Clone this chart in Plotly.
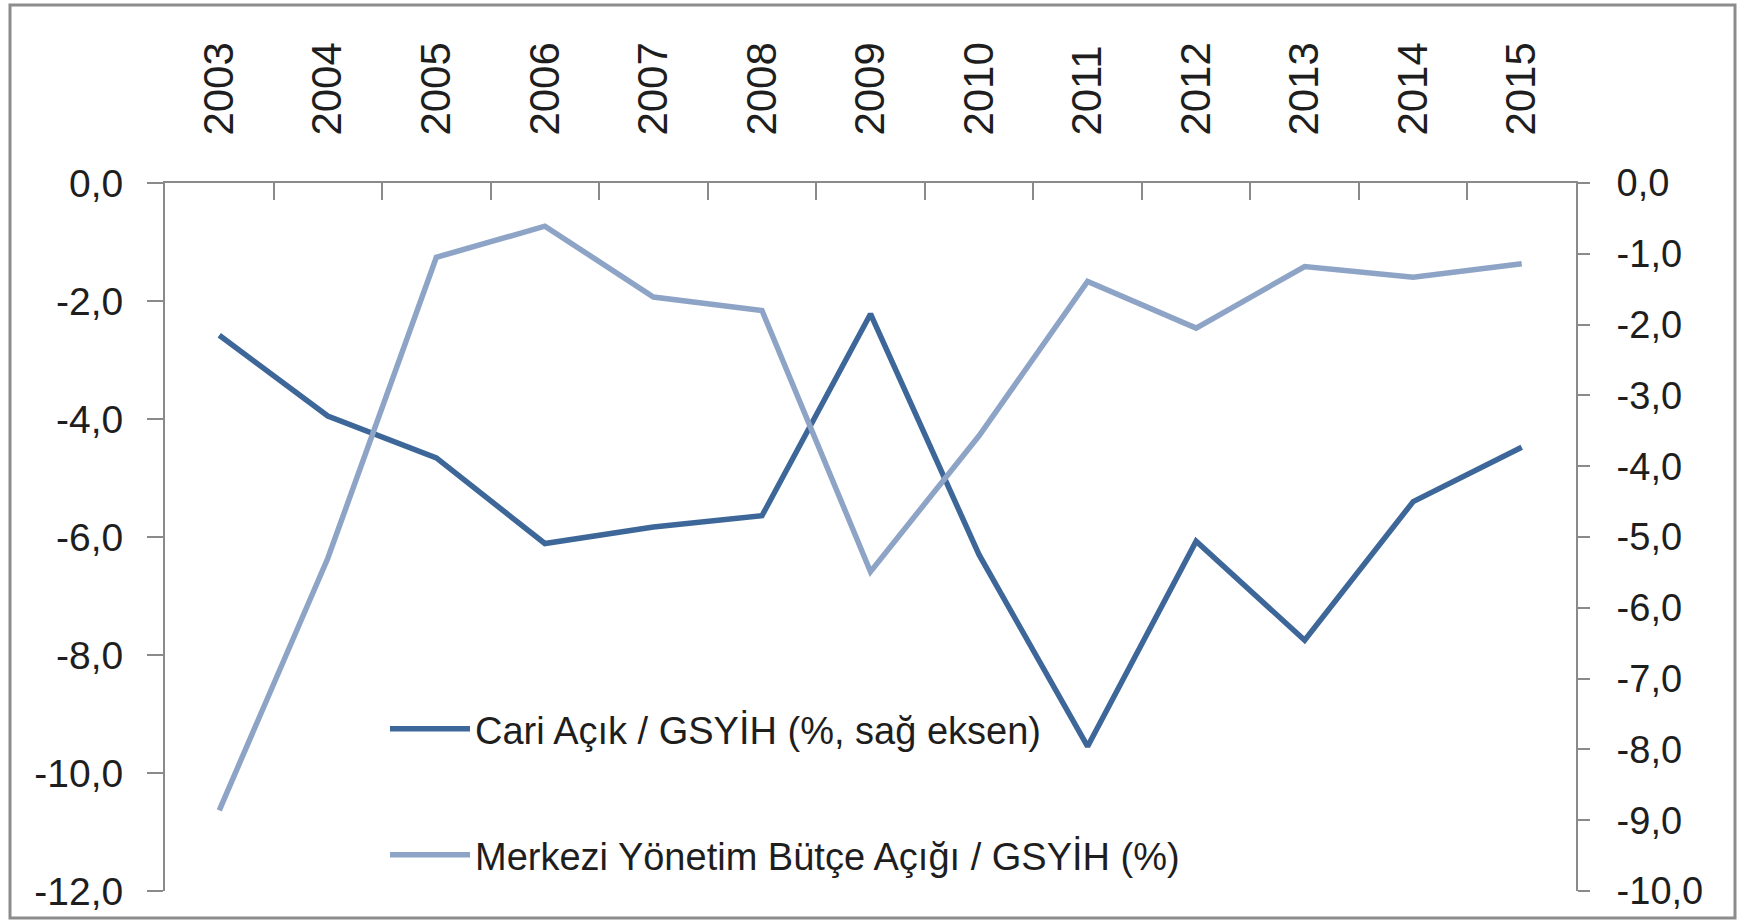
import plotly.graph_objects as go

years = ["2003", "2004", "2005", "2006", "2007", "2008", "2009",
         "2010", "2011", "2012", "2013", "2014", "2015"]

cari_name = "Cari Açık / GSYİH (%, sağ eksen)"
cari_values = [-2.58, -3.95, -4.66, -6.11, -5.83, -5.64, -2.22,
               -6.30, -9.55, -6.07, -7.75, -5.40, -4.48]

butce_name = "Merkezi Yönetim Bütçe Açığı / GSYİH (%)"
butce_values = [-8.86, -5.30, -1.05, -0.61, -1.61, -1.80, -5.49,
                -3.57, -1.39, -2.05, -1.18, -1.33, -1.14]

left_tickvals = [0, -2, -4, -6, -8, -10, -12]
left_ticktext = ["0,0", "-2,0", "-4,0", "-6,0", "-8,0", "-10,0", "-12,0"]
right_tickvals = [0, -1, -2, -3, -4, -5, -6, -7, -8, -9, -10]
right_ticktext = ["0,0", "-1,0", "-2,0", "-3,0", "-4,0", "-5,0", "-6,0",
                  "-7,0", "-8,0", "-9,0", "-10,0"]

DARK = "#3e6799"
LIGHT = "#8ea4c6"
AXIS = "#8a8a8a"
TXT = "#1e1e1e"

fig = go.Figure()
fig.add_trace(go.Scatter(x=years, y=cari_values, name=cari_name, mode="lines",
                         line=dict(color=DARK, width=5.5), yaxis="y", legend="legend",
                         showlegend=True))
fig.add_trace(go.Scatter(x=years, y=butce_values, name=butce_name, mode="lines",
                         line=dict(color=LIGHT, width=5.5), yaxis="y2", legend="legend2",
                         showlegend=True))

L, R, T, B = 165, 164, 183, 30
W, H = 1740, 921
pw, ph = W - L - R, H - T - B

def px2paper_x(px):
    return (px - L) / pw

def px2paper_y(py):
    return (H - B - py) / ph

fig.update_layout(
    width=W, height=H,
    margin=dict(l=L, r=R, t=T, b=B, autoexpand=False),
    paper_bgcolor="white", plot_bgcolor="white",
    showlegend=True,
    font=dict(family="Liberation Sans, Arial, sans-serif", size=38, color=TXT),
    xaxis=dict(type="category", side="top", tickangle=-90, automargin=False,
               tickson="boundaries", ticks="inside", ticklen=17, tickwidth=2,
               tickcolor=AXIS, showline=True, linecolor=AXIS, linewidth=2,
               showgrid=False, zeroline=False, range=[-0.5, 12.5],
               tickfont=dict(family="Liberation Sans, Arial, sans-serif", size=42, color=TXT),
               ticklabelstandoff=37),
    yaxis=dict(range=[-12, 0], tickvals=left_tickvals, ticktext=left_ticktext,
               automargin=False,
               ticks="outside", ticklen=16, tickwidth=2, tickcolor=AXIS,
               showline=True, linecolor=AXIS, linewidth=2, showgrid=False,
               zeroline=False, ticklabelstandoff=16,
               tickfont=dict(size=39, color=TXT)),
    yaxis2=dict(range=[-10, 0], tickvals=right_tickvals, ticktext=right_ticktext,
                overlaying="y", side="right", anchor="x", automargin=False,
                ticks="outside", ticklen=12, tickwidth=2, tickcolor=AXIS,
                showline=True, linecolor=AXIS, linewidth=2, showgrid=False,
                zeroline=False, ticklabelstandoff=19,
                tickfont=dict(size=38, color=TXT)),
    legend=dict(x=px2paper_x(385), y=px2paper_y(729), xanchor="left", yanchor="middle",
                bgcolor="rgba(0,0,0,0)", font=dict(size=38, color=TXT), itemwidth=80),
    legend2=dict(x=px2paper_x(385), y=px2paper_y(855), xanchor="left", yanchor="middle",
                 bgcolor="rgba(0,0,0,0)", font=dict(size=38, color=TXT), itemwidth=80),
    shapes=[dict(type="rect", xref="paper", yref="paper",
                 x0=px2paper_x(10), x1=px2paper_x(1735),
                 y0=px2paper_y(918), y1=px2paper_y(5),
                 line=dict(color="#8c8c8c", width=3), layer="below")],
)

fig.write_html("out.html",
               config={"displayModeBar": False},
               post_script="document.body.style.margin='0';document.body.style.overflow='hidden';")
